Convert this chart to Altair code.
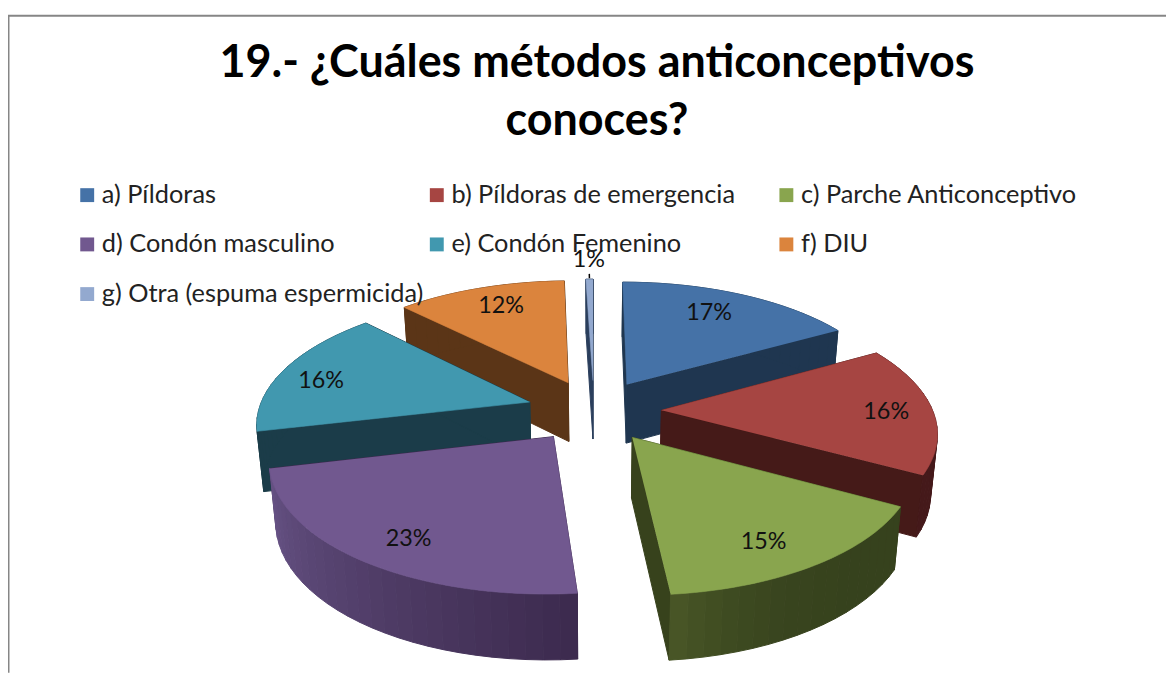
import math
import altair as alt
import pandas as pd

# ---- data
categories = ["a) Píldoras", "b) Píldoras de emergencia", "c) Parche Anticonceptivo",
              "d) Condón masculino", "e) Condón Femenino", "f) DIU",
              "g) Otra (espuma espermicida)"]
shares = [16.8, 16.2, 15.49, 22.8, 16.35, 11.86, 0.5]
labels = ["17%", "16%", "15%", "23%", "16%", "12%", "1%"]
title_lines = ["19.- ¿Cuáles métodos anticonceptivos", "conoces?"]

# ---- styles
top_colors = ["#4572A7", "#A64542", "#89A54E", "#71588F", "#4198AF", "#DB843D", "#93A9CF"]
cut_colors = ["#1F3650", "#451A18", "#37421C", "#3C2A4E", "#1B3C49", "#5B3517", "#2A3E5C"]
rim_start = ["#1F3650", "#45191A", "#36421D", "#3C2A4E", "#1B3C49", "#5B3517", "#2A3E5C"]
rim_end = ["#1F3650", "#45191A", "#4A5727", "#675385", "#1B3C49", "#5B3517", "#2A3E5C"]
rim_power = [1, 1, 4, 1, 1, 1, 1]
draw_order = [6, 5, 0, 4, 1, 3, 2]
label_radius = [0.78, 0.83, 0.80, 0.81, 0.83, 0.80, 1.24]
label_turn = [-3, 0, 3, -2, -2.5, 1.5, 0]

# ---- page geometry and pie projection
W, H = 1166, 667
CX, CY, TILT, PERSP, EXPLODE, RADIUS, DEPTH = 598, 411, 0.461, 0.000552, 68, 273, 60


def project(px, py, low=False):
    w = 1 - PERSP * py
    sx = CX + px / w
    sy = CY + TILT * py / w
    if low:
        sx = CX + (sx - CX) * 0.98
        sy = sy + DEPTH / math.sqrt(w)
    return sx, sy


def polar(a, r):
    t = math.radians(a)
    return r * math.sin(t), -r * math.cos(t)


def mix(c0, c1, f):
    v0 = [int(c0[i:i + 2], 16) for i in (1, 3, 5)]
    v1 = [int(c1[i:i + 2], 16) for i in (1, 3, 5)]
    return "#%02x%02x%02x" % tuple(round(a + (b - a) * f) for a, b in zip(v0, v1))


edges = [0.0]
for s in shares:
    edges.append(edges[-1] + s * 3.6)
edges[-1] = 360.0

x_scale = alt.Scale(domain=[8, 8 + W], nice=False, zero=False)
y_scale = alt.Scale(domain=[8 + H, 8], nice=False, zero=False)
fill_scale = alt.Scale(domain=categories, range=top_colors)


def poly_frame(polys):
    rows = []
    for pid, (color, pts) in enumerate(polys):
        for n, (x, y) in enumerate(pts + pts[:1]):
            rows.append({"x": x, "y": y, "n": n, "pid": pid, "color": color})
    return pd.DataFrame(rows)


layers = []
label_rows = []
for idx in draw_order:
    a0, a1 = edges[idx], edges[idx + 1]
    mid = (a0 + a1) / 2
    ox, oy = polar(mid, EXPLODE)
    pt = lambda a, low=False: project(ox + polar(a, RADIUS)[0], oy + polar(a, RADIUS)[1], low)
    apex, apex_low = project(ox, oy), project(ox, oy, True)

    steps = max(2, int((a1 - a0) / 3))
    angles = [a0 + (a1 - a0) * i / steps for i in range(steps + 1)]
    walls = [
        (cut_colors[idx], [apex, pt(a0), pt(a0, True), apex_low]),
        (cut_colors[idx], [apex, pt(a1), pt(a1, True), apex_low]),
    ]
    for i in range(steps):
        c = mix(rim_start[idx], rim_end[idx], ((i + 0.5) / steps) ** rim_power[idx])
        walls.append((c, [pt(angles[i]), pt(angles[i + 1]), pt(angles[i + 1], True), pt(angles[i], True)]))
    layers.append(
        alt.Chart(poly_frame(walls)).mark_line(strokeWidth=1, strokeJoin="round").encode(
            x=alt.X("x:Q", scale=x_scale, axis=None),
            y=alt.Y("y:Q", scale=y_scale, axis=None),
            order="n:Q",
            detail="pid:N",
            fill=alt.Fill("color:N", scale=None),
            stroke=alt.Stroke("color:N", scale=None),
        )
    )
    top_pts = [apex] + [pt(a) for a in [a0 + (a1 - a0) * i / 40 for i in range(41)]]
    top = pd.DataFrame([{"x": x, "y": y, "n": n, "cat": categories[idx]} for n, (x, y) in enumerate(top_pts)])
    layers.append(
        alt.Chart(top).mark_line(strokeWidth=0.6).encode(
            x=alt.X("x:Q", scale=x_scale, axis=None),
            y=alt.Y("y:Q", scale=y_scale, axis=None),
            order="n:Q",
            fill=alt.Fill(
                "cat:N", scale=fill_scale,
                legend=alt.Legend(
                    orient="none", legendX=67, legendY=173, columns=3, title=None,
                    direction="horizontal", gridAlign="all", symbolType="square", symbolSize=196,
                    symbolStrokeWidth=0, labelFont="Lato", labelFontSize=25.5,
                    labelColor="#222222", labelLimit=500, rowPadding=23,
                    columnPadding=0, labelOffset=2, values=categories,
                ),
            ),
            stroke=alt.Stroke("cat:N", scale=fill_scale, legend=None),
        )
    )
    lx, ly = polar(mid + label_turn[idx], RADIUS * label_radius[idx])
    sx, sy = project(ox + lx, oy + ly)
    label_rows.append({"x": sx, "y": sy, "text": labels[idx]})
    if idx == 6:
        tick = pd.DataFrame(
            [{"x": project(ox + polar(mid, RADIUS * r)[0], oy + polar(mid, RADIUS * r)[1])[0],
              "y": project(ox + polar(mid, RADIUS * r)[0], oy + polar(mid, RADIUS * r)[1])[1],
              "n": n} for n, r in enumerate((1.01, 1.06))]
        )
        leader = alt.Chart(tick).mark_line(color="#000000", strokeWidth=1.5).encode(
            x=alt.X("x:Q", scale=x_scale, axis=None),
            y=alt.Y("y:Q", scale=y_scale, axis=None),
            order="n:Q",
        )

text_layer = alt.Chart(pd.DataFrame(label_rows)).mark_text(
    font="Lato", fontSize=23.5, color="#111111", baseline="middle", align="center", dy=2
).encode(
    x=alt.X("x:Q", scale=x_scale, axis=None),
    y=alt.Y("y:Q", scale=y_scale, axis=None),
    text="text:N",
)

frame_h = alt.Chart(pd.DataFrame({"a": [8.0], "b": [8.0 + W], "y": [13.5]})).mark_rule(
    color="#868686", strokeWidth=2
).encode(x=alt.X("a:Q", scale=x_scale, axis=None), x2="b:Q", y=alt.Y("y:Q", scale=y_scale, axis=None))
frame_v = alt.Chart(pd.DataFrame({"a": [13.5], "b": [8.0 + H], "x": [8.5]})).mark_rule(
    color="#868686", strokeWidth=2
).encode(y=alt.Y("a:Q", scale=y_scale, axis=None), y2="b:Q", x=alt.X("x:Q", scale=x_scale, axis=None))

chart = alt.layer(frame_h, frame_v, *layers, leader, text_layer).properties(
    width=W,
    height=H,
    padding=0,
    autosize=alt.AutoSizeParams(type="none"),
    background="#ffffff",
    title=alt.TitleParams(
        text=title_lines, font="Lato", fontSize=45.2, fontWeight="bold", color="#000000",
        anchor="middle", frame="group", lineHeight=59, dx=10, dy=175, baseline="alphabetic",
    ),
).configure_view(stroke=None)

chart.save("out.html", embed_options={"renderer": "svg", "actions": False})
